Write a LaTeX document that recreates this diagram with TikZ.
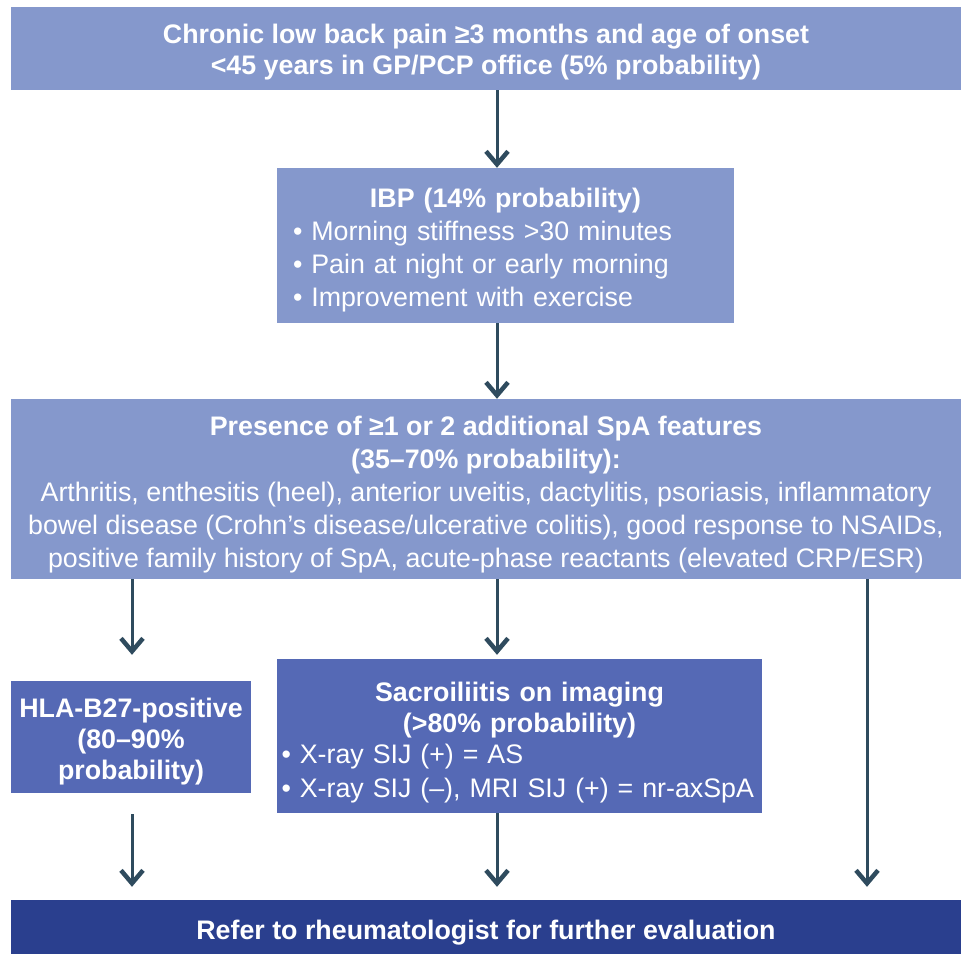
\documentclass[tikz,border=0pt]{standalone}
\usepackage{fontspec}
\setmainfont{Liberation Sans}
\usetikzlibrary{arrows.meta}
\definecolor{lightbox}{HTML}{8598CC}
\definecolor{midbox}{HTML}{5569B5}
\definecolor{darkbox}{HTML}{2A3F8E}
\definecolor{arrowcol}{HTML}{2F4B5E}
\newcommand{\lift}[1]{\rule{0pt}{#1}}
\tikzset{
  box/.style={rectangle, inner sep=0pt, text=white},
  lightfill/.style={box, fill=lightbox},
  midfill/.style={box, fill=midbox},
  darkfill/.style={box, fill=darkbox},
  flow/.style={draw=arrowcol, line width=3pt, -{Straight Barb[length=13pt,width=22pt,line width=4.5pt]}},
  bodyfont/.style={font=\fontsize{26.8}{33}\selectfont},
  boldfont/.style={font=\fontsize{26.8}{31}\selectfont\bfseries}
}
\begin{document}
\begin{tikzpicture}[x=1pt,y=-1pt]
\useasboundingbox (0,0) rectangle (961,954);
\fill[white] (0,0) rectangle (961,954);

\node[lightfill, boldfont, align=center, minimum width=950pt, minimum height=83pt] (top) at (486,48.5)
  {\lift{27pt}Chronic low back pain ≥3 months and age of onset\\<45 years in GP/PCP office (5\% probability)};

\node[lightfill, bodyfont, align=left, text width=425pt, minimum width=457pt, minimum height=155pt] (ibp) at (505.5,245.5)
  {\lift{29pt}\makebox[425pt]{\bfseries IBP (14\% probability)}\\
   • Morning stiffness >30 minutes\\
   • Pain at night or early morning\\
   • Improvement with exercise};

\node[lightfill, bodyfont, align=center, minimum width=950pt, minimum height=180pt] (mid) at (486,489)
  {\lift{30pt}\textbf{Presence of ≥1 or 2 additional SpA features}\\
   \textbf{(35–70\% probability):}\\
   Arthritis, enthesitis (heel), anterior uveitis, dactylitis, psoriasis, inflammatory\\
   bowel disease (Crohn’s disease/ulcerative colitis), good response to NSAIDs,\\
   positive family history of SpA, acute-phase reactants (elevated CRP/ESR)};

\node[midfill, font=\fontsize{26.8}{31}\selectfont\bfseries, align=center, minimum width=240pt, minimum height=112pt] (hla) at (131,737)
  {\lift{28pt}HLA-B27-positive\\(80–90\%\\probability)};

\node[midfill, font=\fontsize{26.8}{31}\selectfont, align=left, text width=476pt, minimum width=485pt, minimum height=154pt] (sacro) at (519.5,736)
  {\lift{32pt}\makebox[476pt]{\bfseries Sacroiliitis on imaging}\\
   \makebox[476pt]{\bfseries (>80\% probability)}\\
   • X-ray SIJ (+) = AS\\[3pt]
   \mbox{• X-ray SIJ (–), MRI SIJ (+) = nr-axSpA}};

\node[darkfill, boldfont, minimum width=950pt, minimum height=54pt] (refer) at (486,927)
  {\lift{31pt}Refer to rheumatologist for further evaluation};

\coordinate (colL) at (132,0);
\coordinate (colM) at (497,0);
\coordinate (colR) at (867,0);

\draw[flow] (top.south -| colM) -- (ibp.north -| colM);
\draw[flow] (ibp.south -| colM) -- (mid.north -| colM);
\draw[flow, shorten >=26pt] (mid.south -| colL) -- (hla.north -| colL);
\draw[flow, shorten >=4pt] (mid.south -| colM) -- (sacro.north -| colM);
\draw[flow, shorten >=13pt] (mid.south -| colR) -- (refer.north -| colR);
\draw[flow, shorten <=21pt, shorten >=13pt] (hla.south -| colL) -- (refer.north -| colL);
\draw[flow, shorten >=13pt] (sacro.south -| colM) -- (refer.north -| colM);
\end{tikzpicture}
\end{document}
